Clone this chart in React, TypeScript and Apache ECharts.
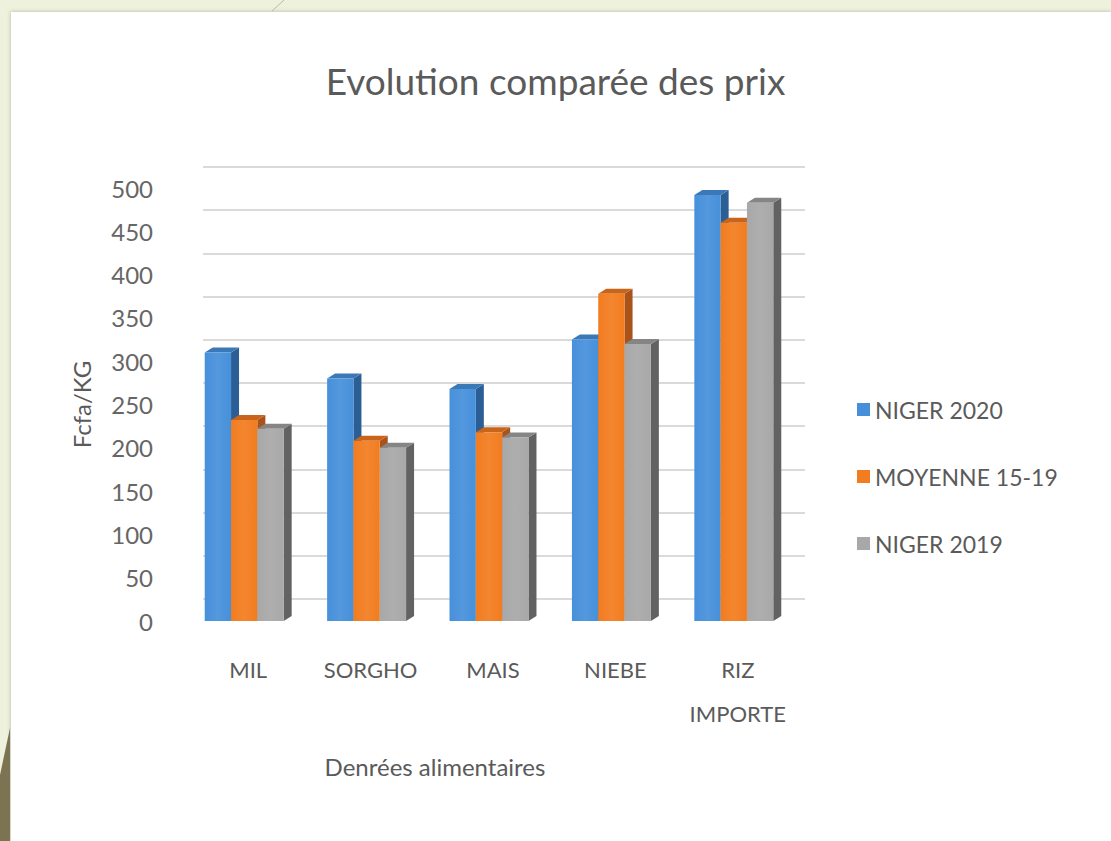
import React, { useEffect, useRef } from "react";
import * as echarts from "echarts";

const categories = ["MIL", "SORGHO", "MAIS", "NIEBE", "RIZ\nIMPORTE"];
const seriesNames = ["NIGER 2020", "MOYENNE 15-19", "NIGER 2019"];
const niger2020 = [310, 280, 268, 325, 492];
const moyenne1519 = [232, 208, 218, 378, 460];
const niger2019 = [222, 200, 212, 320, 483];
const yTicks = { min: 0, max: 500, interval: 50 };

const frontColors = ["#4690db", "#f27c1f", "#a8a8a8"];
const sideColors = ["#2b5e95", "#a9531a", "#626262"];
const topColors = ["#3a78b8", "#c8651b", "#858585"];

const FONT = "Lato, 'Open Sans', sans-serif";
const TXT = "#5a5a5a";

function makeRender(idx: number) {
  return (params: any, api: any) => {
    const cat = api.value(0);
    const val = api.value(1);
    const pTop = api.coord([cat, val]);
    const pBot = api.coord([cat, 0]);
    const band = api.size([1, 0])[0];
    const bw = band * 0.215;
    const d = 8;
    const dy = 5;
    const gx = pTop[0] - (3 * bw + d) / 2;
    const x0 = gx + idx * bw;
    const x1 = x0 + bw;
    const yt = pTop[1];
    const yb = pBot[1];
    return {
      type: "group",
      children: [
        {
          type: "polygon",
          shape: { points: [[x1, yt], [x1 + d, yt - dy], [x1 + d, yb - dy], [x1, yb]] },
          style: { fill: sideColors[idx] },
        },
        {
          type: "polygon",
          shape: { points: [[x0, yt], [x0 + d, yt - dy], [x1 + d, yt - dy], [x1, yt]] },
          style: { fill: topColors[idx] },
        },
        {
          type: "rect",
          shape: { x: x0, y: yt, width: bw, height: yb - yt },
          style: {
            fill: new echarts.graphic.LinearGradient(0, 0, 1, 0, [
              { offset: 0, color: frontColors[idx] },
              { offset: 0.5, color: echarts.color.lift(frontColors[idx], 0.08) },
              { offset: 1, color: frontColors[idx] },
            ]),
          },
        },
      ],
    };
  };
}

export default function App() {
  const ref = useRef<HTMLDivElement>(null);
  useEffect(() => {
    if (!ref.current) return;
    const chart = echarts.init(ref.current, null, { renderer: "svg" });
    const allSeries = [niger2020, moyenne1519, niger2019];
    chart.setOption({
      animation: false,
      backgroundColor: "transparent",
      title: {
        text: "Evolution comparée des prix",
        left: "center",
        top: 57,
        textStyle: { fontFamily: FONT, fontSize: 37, fontWeight: "normal", color: TXT },
      },
      legend: {
        orient: "vertical",
        left: 852,
        top: 393,
        itemGap: 44,
        itemWidth: 13,
        itemHeight: 13,
        icon: "rect",
        data: seriesNames,
        textStyle: { fontFamily: FONT, fontSize: 23, color: TXT },
      },
      grid: [
        { left: 187, top: 188, width: 612, height: 433 },
        { left: 203, top: 167, width: 602, height: 432 },
      ],
      xAxis: [
        {
          type: "category",
          gridIndex: 0,
          data: categories,
          axisLine: { show: false },
          axisTick: { show: false },
          axisLabel: {
            interval: 0,
            fontFamily: FONT,
            fontSize: 22,
            color: TXT,
            margin: 26,
            lineHeight: 44,
            verticalAlign: "top",
          },
          name: "Denrées alimentaires",
          nameLocation: "middle",
          nameGap: 133,
          nameTextStyle: { fontFamily: FONT, fontSize: 24, color: TXT, padding: [0, 116, 0, 0] },
        },
        { type: "value", gridIndex: 1, min: 0, max: 1, show: false },
      ],
      yAxis: [
        {
          type: "value",
          gridIndex: 0,
          ...yTicks,
          axisLine: { show: false },
          axisTick: { show: false },
          splitLine: { show: false },
          axisLabel: { fontFamily: FONT, fontSize: 24, color: "#666666", margin: 34 },
          name: "Fcfa/KG",
          nameLocation: "middle",
          nameGap: 94,
          nameRotate: 90,
          nameTextStyle: { fontFamily: FONT, fontSize: 24, color: TXT },
        },
        {
          type: "value",
          gridIndex: 1,
          ...yTicks,
          axisLine: { show: false },
          axisTick: { show: false },
          axisLabel: { show: false },
          splitLine: { show: true, lineStyle: { color: "#dadada", width: 2 } },
        },
      ],
      series: allSeries.map((vals, idx) => ({
        type: "custom",
        name: seriesNames[idx],
        xAxisIndex: 0,
        yAxisIndex: 0,
        itemStyle: { color: frontColors[idx] },
        encode: { x: 0, y: 1 },
        data: vals.map((v, i) => [i, v]),
        renderItem: makeRender(idx),
        z: 2 + idx,
      })),
      graphic: [
        {
          type: "polygon",
          shape: { points: [[0, 775], [10, 728], [10, 841], [0, 841]] },
          style: { fill: "#7b7352" },
        },
        {
          type: "line",
          shape: { x1: 284, y1: 0, x2: 272, y2: 11 },
          style: { stroke: "#b9bca3", lineWidth: 1 },
        },
      ],
    });
    return () => chart.dispose();
  }, []);

  return (
    <div style={{ position: "absolute", left: 0, top: 0, width: 1111, height: 841, background: "#eef1dc", overflow: "hidden" }}>
      <div
        style={{
          position: "absolute",
          left: 11,
          top: 12,
          width: 1100,
          height: 829,
          background: "#ffffff",
          boxShadow: "0 0 4px rgba(0,0,0,0.25)",
        }}
      />
      <div ref={ref} style={{ position: "absolute", left: 0, top: 0, width: 1111, height: 841 }} />
    </div>
  );
}
